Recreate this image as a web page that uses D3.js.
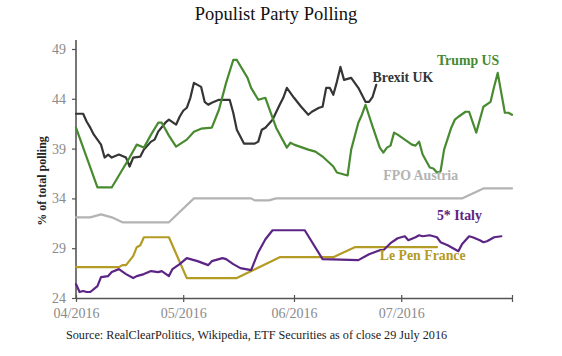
<!DOCTYPE html>
<html>
<head>
<meta charset="utf-8">
<script src="https://cdn.jsdelivr.net/npm/d3@7"></script>
<style>
  html, body { margin: 0; padding: 0; background: #fff; }
  svg { display: block; font-family: "Liberation Serif", "Times New Roman", serif; }
</style>
</head>
<body>
<svg id="chart" width="562" height="356"></svg>
<script>
const title = "Populist Party Polling";
const yAxisTitle = "% of total polling";
const sourceText = "Source:  RealClearPolitics, Wikipedia, ETF Securities as of close 29 July 2016";

const yTicks = [24, 29, 34, 39, 44, 49];
const xTickDates = ["2016-04-01", "2016-05-01", "2016-06-01", "2016-07-01", "2016-08-01"];
const xTickLabels = ["04/2016", "05/2016", "06/2016", "07/2016", ""];

const seriesNames = ["Trump US", "Brexit UK", "FPO Austria", "5* Italy", "Le Pen France"];

const trumpDates = ["2016-04-01","2016-04-07","2016-04-11","2016-04-14","2016-04-16","2016-04-18","2016-04-20","2016-04-22","2016-04-24","2016-04-25","2016-04-27","2016-04-29",
  "2016-05-02","2016-05-04","2016-05-06","2016-05-09","2016-05-11","2016-05-13","2016-05-15","2016-05-16","2016-05-19","2016-05-20","2016-05-22","2016-05-24","2016-05-25","2016-05-27","2016-05-30","2016-05-31",
  "2016-06-01","2016-06-05","2016-06-07","2016-06-09","2016-06-12","2016-06-13","2016-06-16","2016-06-17","2016-06-19","2016-06-20","2016-06-21","2016-06-23","2016-06-25","2016-06-26","2016-06-27","2016-06-28","2016-06-29","2016-06-30",
  "2016-07-02","2016-07-04","2016-07-05","2016-07-06","2016-07-07","2016-07-09","2016-07-10","2016-07-11","2016-07-12","2016-07-13","2016-07-15","2016-07-16","2016-07-17","2016-07-19","2016-07-20","2016-07-22","2016-07-24","2016-07-26","2016-07-27","2016-07-28","2016-07-30","2016-07-31","2016-08-01"];
const trumpValues = [41.1,35.1,35.1,36.9,38.1,39.4,39.1,40.4,41.6,41.6,40.3,39.2,
  39.9,40.7,41.0,41.1,42.9,45.6,47.9,47.9,46.1,45.1,43.9,44.1,43.1,41.1,39.1,39.6,
  39.4,38.9,38.7,38.2,37.2,36.6,36.3,38.9,41.6,42.4,43.4,41.2,39.1,38.6,39.1,39.3,40.6,40.4,
  39.9,39.4,39.3,39.7,38.4,37.1,37.0,36.6,36.7,38.9,41.1,41.9,42.2,42.7,42.7,40.6,43.2,43.7,45.2,46.6,42.6,42.6,42.4];

const brexitDates = ["2016-04-01","2016-04-03","2016-04-04","2016-04-05","2016-04-06","2016-04-08","2016-04-09","2016-04-10","2016-04-11","2016-04-13","2016-04-15","2016-04-16","2016-04-17","2016-04-19","2016-04-20","2016-04-22","2016-04-23","2016-04-24","2016-04-26","2016-04-27","2016-04-29","2016-04-30",
  "2016-05-01","2016-05-02","2016-05-03","2016-05-04","2016-05-06","2016-05-07","2016-05-08","2016-05-09","2016-05-11","2016-05-14","2016-05-15","2016-05-16","2016-05-18","2016-05-21","2016-05-22","2016-05-23","2016-05-24","2016-05-26","2016-05-28","2016-05-29","2016-05-30",
  "2016-06-01","2016-06-03","2016-06-05","2016-06-06","2016-06-08","2016-06-09","2016-06-10","2016-06-11","2016-06-12","2016-06-13","2016-06-14","2016-06-15","2016-06-17","2016-06-19","2016-06-20","2016-06-21","2016-06-22","2016-06-23","2016-06-24"];
const brexitValues = [42.5,42.5,41.7,41.1,40.4,39.4,38.1,38.4,38.1,38.4,38.1,37.2,38.1,38.2,38.9,39.7,39.9,40.7,41.6,41.9,41.4,42.2,
  42.8,43.1,44.1,45.6,45.2,43.7,43.4,43.6,43.9,43.9,42.6,40.9,39.5,39.5,39.7,40.9,41.1,41.9,43.4,44.1,45.1,
  44.1,43.2,42.4,42.7,43.1,43.2,45.1,45.1,44.4,45.7,47.2,45.9,46.1,45.1,44.4,43.7,43.7,44.2,45.4];

const fpoDates = ["2016-04-01","2016-04-05","2016-04-08","2016-04-11","2016-04-14","2016-04-27","2016-05-04","2016-05-20","2016-05-21","2016-05-25","2016-05-27","2016-07-18","2016-07-24","2016-08-01"];
const fpoValues = [32.1,32.1,32.4,32.1,31.6,31.6,34.0,34.0,33.8,33.8,34.0,34.0,35.0,35.0];

const italyDates = ["2016-04-01","2016-04-02","2016-04-03","2016-04-04","2016-04-05","2016-04-07","2016-04-08","2016-04-10","2016-04-11","2016-04-13","2016-04-15","2016-04-17","2016-04-18","2016-04-20","2016-04-22","2016-04-24","2016-04-25","2016-04-27","2016-04-28","2016-04-30",
  "2016-05-01","2016-05-02","2016-05-05","2016-05-08","2016-05-09","2016-05-12","2016-05-13","2016-05-15","2016-05-17","2016-05-20","2016-05-22","2016-05-24","2016-05-26",
  "2016-06-04","2016-06-09","2016-06-19","2016-06-22","2016-06-25","2016-06-26","2016-06-28","2016-06-30",
  "2016-07-01","2016-07-02","2016-07-03","2016-07-05","2016-07-06","2016-07-07","2016-07-09","2016-07-10","2016-07-11","2016-07-12","2016-07-14","2016-07-17","2016-07-18","2016-07-20","2016-07-21","2016-07-23","2016-07-24","2016-07-25","2016-07-27","2016-07-29"];
const italyValues = [25.4,24.6,24.7,24.6,24.6,25.2,26.1,26.2,26.6,26.9,26.4,26.0,26.2,26.4,26.7,26.6,26.7,26.2,26.9,27.4,
  27.7,28.0,27.7,27.3,27.7,28.0,27.9,27.4,27.0,26.8,28.6,29.9,30.8,
  30.8,27.9,27.8,28.4,28.8,28.8,29.5,30.0,
  30.1,30.2,29.8,30.1,30.3,30.2,30.3,30.2,30.1,29.6,29.3,28.7,29.4,30.2,30.1,29.8,29.6,29.7,30.1,30.2];

const lepenDates = ["2016-04-01","2016-04-13","2016-04-14","2016-04-15","2016-04-17","2016-04-18","2016-04-19","2016-04-20","2016-04-27","2016-05-02","2016-05-16","2016-05-28","2016-06-12","2016-06-18","2016-07-11"];
const lepenValues = [27.1,27.1,27.3,27.3,28.2,29.1,29.3,30.1,30.1,26.0,26.0,28.1,28.1,29.1,29.1];

const colors = {
  "Trump US": "#478a30",
  "Brexit UK": "#353535",
  "FPO Austria": "#b3b3b3",
  "5* Italy": "#5c2484",
  "Le Pen France": "#b39b24"
};

const parse = d3.timeParse("%Y-%m-%d");
const zip = (ds, vs) => ds.map((d, i) => ({ date: parse(d), value: vs[i] }));
const series = [
  { name: "FPO Austria", data: zip(fpoDates, fpoValues) },
  { name: "Le Pen France", data: zip(lepenDates, lepenValues) },
  { name: "5* Italy", data: zip(italyDates, italyValues) },
  { name: "Brexit UK", data: zip(brexitDates, brexitValues) },
  { name: "Trump US", data: zip(trumpDates, trumpValues) }
];

const svg = d3.select("#chart");
const x = d3.scaleTime().domain([parse(xTickDates[0]), parse(xTickDates[xTickDates.length - 1])]).range([76, 512]);
const y = d3.scaleLinear().domain([24, 49]).range([298, 49]);

// Title
svg.append("text").attr("x", 276).attr("y", 20).attr("text-anchor", "middle")
  .attr("font-size", 18.5).attr("fill", "#111").text(title);

// Y axis
const yAxis = svg.append("g").attr("transform", "translate(76,0)")
  .call(d3.axisLeft(y).tickValues(yTicks).tickSize(4).tickPadding(6).tickSizeOuter(0));
yAxis.select(".domain").remove();
yAxis.selectAll(".tick line").attr("stroke", "#555").attr("stroke-width", 1.2);
yAxis.selectAll(".tick text").attr("fill", "#8a8a8a").attr("font-size", 14)
  .attr("font-family", "'Liberation Serif', serif");
yAxis.append("line").attr("x1", 0).attr("x2", 0).attr("y1", 40).attr("y2", y(24))
  .attr("stroke", "#555").attr("stroke-width", 1.6);

// X axis
const xTickDateObjs = xTickDates.map(parse);
const xAxis = svg.append("g").attr("transform", `translate(0,${y(24)})`)
  .call(d3.axisBottom(x).tickValues(xTickDateObjs).tickSize(4).tickPadding(6).tickSizeOuter(0)
    .tickFormat((d, i) => xTickLabels[i]));
xAxis.select(".domain").attr("stroke", "#555").attr("stroke-width", 1.6);
xAxis.selectAll(".tick line").attr("stroke", "#555").attr("stroke-width", 1.2).attr("y1", -3);
xAxis.selectAll(".tick text").attr("fill", "#8a8a8a").attr("font-size", 14)
  .attr("font-family", "'Liberation Serif', serif");

// Y axis title
svg.append("text").attr("transform", `translate(46,${(y(24) + 40) / 2 + 12}) rotate(-90)`)
  .attr("text-anchor", "middle").attr("font-size", 12).attr("font-weight", "bold")
  .attr("fill", "#222").text(yAxisTitle);

// Lines
const line = d3.line().x(d => x(d.date)).y(d => y(d.value));
svg.append("g").selectAll("path").data(series).join("path")
  .attr("d", d => line(d.data)).attr("fill", "none")
  .attr("stroke", d => colors[d.name]).attr("stroke-width", 2.2)
  .attr("stroke-linejoin", "round").attr("stroke-linecap", "round");

// Series labels
const labelPos = {
  "Trump US": { date: "2016-07-11", value: 47.4 },
  "Brexit UK": { date: "2016-06-23", value: 45.7 },
  "FPO Austria": { date: "2016-06-26", value: 35.8 },
  "5* Italy": { date: "2016-07-11", value: 31.8 },
  "Le Pen France": { date: "2016-06-25", value: 27.8 }
};
svg.append("g").selectAll("text").data(seriesNames).join("text")
  .attr("x", d => x(parse(labelPos[d].date)))
  .attr("y", d => y(labelPos[d].value))
  .attr("font-size", 13.8).attr("font-weight", "bold")
  .attr("fill", d => colors[d]).text(d => d);

// Source
svg.append("text").attr("x", 66).attr("y", 339).attr("font-size", 12.2).attr("fill", "#222")
  .text(sourceText);
</script>
</body>
</html>
